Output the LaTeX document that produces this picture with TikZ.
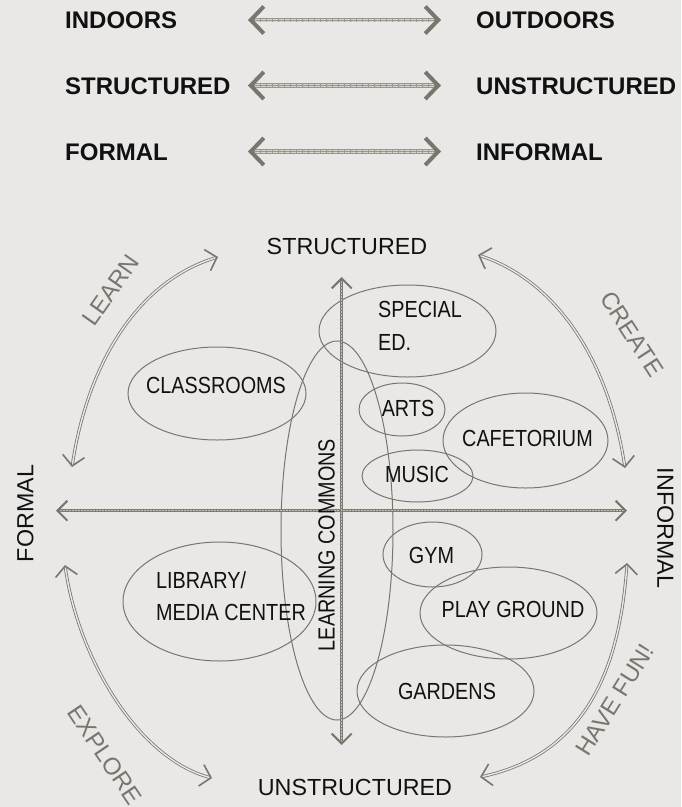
\documentclass[tikz,border=0pt]{standalone}
\usepackage{fontspec}
\setmainfont{Liberation Sans}
\newfontfamily\condfont[FakeStretch=0.85]{Liberation Sans}
\usetikzlibrary{arrows.meta,shapes.geometric}
\definecolor{bgc}{HTML}{E9E8E6}
\definecolor{ln}{HTML}{7A766E}
\definecolor{axd}{HTML}{7F7B73}
\definecolor{axl}{HTML}{C4C0BA}
\definecolor{shd}{HTML}{9A968E}
\definecolor{shl}{HTML}{D8D5D0}
\definecolor{ink}{HTML}{111111}
\begin{document}
\begin{tikzpicture}[x=1pt,y=-1pt,
  toptext/.style={font=\fontsize{24}{28}\selectfont\bfseries, text=ink, inner sep=0, anchor=base west},
  axtext/.style={font=\fontsize{23.3}{28}\selectfont, text=ink, inner sep=0},
  roomtext/.style={font=\condfont\fontsize{23.3}{28}\selectfont, text=ink, inner sep=0, anchor=base},
  curvetext/.style={font=\fontsize{24}{28}\selectfont, text=ln, inner sep=0},
  room/.style={draw=ln, line width=1pt, ellipse, inner sep=0},
  topbase/.style={line width=4.5pt, draw=shd, shorten <=3pt, shorten >=3pt},
  topstripe/.style={line width=3pt, draw=shl, dash pattern=on 0.6pt off 0.6pt, shorten <=3pt, shorten >=3pt},
  toptips/.style={line width=0.1pt, draw=shd,
     {Straight Barb[length=13pt,width=27pt,line width=4pt,color=ln]}-{Straight Barb[length=13pt,width=27pt,line width=4pt,color=ln]}},
  axbase/.style={line width=2.8pt, draw=axd, shorten <=2pt, shorten >=2pt},
  axstripe/.style={line width=1.6pt, draw=axl, dash pattern=on 0.7pt off 0.8pt, shorten <=2pt, shorten >=2pt},
  axtips/.style={line width=0.1pt, draw=axd,
     {Straight Barb[length=10pt,width=20pt,line width=2pt,color=ln]}-{Straight Barb[length=10pt,width=20pt,line width=2pt,color=ln]}},
  dbl/.style={draw=ln, line width=0.8pt, double=bgc, double distance=1.4pt, shorten <=1.5pt, shorten >=1.5pt},
  dbltips/.style={line width=0.1pt, draw=bgc,
     {Straight Barb[length=10pt,width=22pt,line width=1.6pt,color=ln]}-{Straight Barb[length=10pt,width=22pt,line width=1.6pt,color=ln]}}
]
\fill[bgc] (0,0) rectangle (681,807);
\useasboundingbox (0,0) rectangle (681,807);

% ---- top legend ----
\node[toptext] (indoors) at (65,28.6) {INDOORS};
\node[toptext] (outdoors) at (476,28.6) {OUTDOORS};
\node[toptext] (struct1) at (65,94.1) {STRUCTURED};
\node[toptext] (unstruct1) at (476,94.1) {UNSTRUCTURED};
\node[toptext] (formal1) at (65,160.1) {FORMAL};
\node[toptext] (informal1) at (476,160.1) {INFORMAL};
\foreach \r/\y in {1/20,2/85.5,3/151.5}{
  \coordinate (t\r a) at (248,\y);
  \coordinate (t\r b) at (441,\y);
  \draw[topbase] (t\r a) -- (t\r b);
  \draw[topstripe] (t\r a) -- (t\r b);
  \draw[toptips] (t\r a) -- (t\r b);
}

% ---- ellipses ----
\node[room, minimum width=178pt, minimum height=93pt] (classE) at (217,393.5) {};
\node[room, minimum width=177pt, minimum height=92pt] (specE) at (407.5,331) {};
\node[room, minimum width=112pt, minimum height=379pt] (lcE) at (337,530.5) {};
\node[room, minimum width=86pt, minimum height=53pt] (artsE) at (402,409.5) {};
\node[room, minimum width=165pt, minimum height=95pt] (cafE) at (525.5,440.5) {};
\node[room, minimum width=111pt, minimum height=52pt] (musE) at (417.5,476) {};
\node[room, minimum width=99pt, minimum height=65pt] (gymE) at (432.5,554.5) {};
\node[room, minimum width=177pt, minimum height=92pt] (playE) at (508.5,613) {};
\node[room, minimum width=177pt, minimum height=92pt] (gardE) at (445.5,691) {};
\node[room, minimum width=193pt, minimum height=119pt] (libE) at (219.5,601.5) {};

% ---- axes ----
\coordinate (axL) at (56,510.7);
\coordinate (axR) at (627,510.7);
\coordinate (axT) at (341.7,277);
\coordinate (axB) at (341.7,745);
\draw[axbase] (axL) -- (axR);
\draw[axstripe] (axL) -- (axR);
\draw[axbase] (axT) -- (axB);
\draw[axstripe] (axT) -- (axB);
\draw[axtips] (axL) -- (axR);
\draw[axtips] (axT) -- (axB);

% ---- room labels ----
\node[roomtext] (class) at (216,393.3) {CLASSROOMS};
\node[roomtext, anchor=base west] (spec1) at (378,317.5) {SPECIAL};
\node[roomtext, anchor=base west] (spec2) at (378,350.5) {ED.};
\node[roomtext] (arts) at (408,416.5) {ARTS};
\node[roomtext] (caf) at (527.5,446.5) {CAFETORIUM};
\node[roomtext] (mus) at (417,482.5) {MUSIC};
\node[roomtext] (gym) at (431.5,563) {GYM};
\node[roomtext] (play) at (513,617) {PLAY GROUND};
\node[roomtext] (gard) at (447,699) {GARDENS};
\node[roomtext, anchor=base west] (lib1) at (156,588.3) {LIBRARY/};
\node[roomtext, anchor=base west] (lib2) at (156,620) {MEDIA CENTER};
\node[roomtext, anchor=center, rotate=90] (lc) at (326.5,545) {LEARNING COMMONS};

% ---- axis labels ----
\node[axtext, anchor=base] (structT) at (347,254) {STRUCTURED};
\node[axtext, anchor=base] (unstructB) at (355,795) {UNSTRUCTURED};
\node[axtext, rotate=90] (formalL) at (25.3,513.5) {FORMAL};
\node[axtext, rotate=-90] (informalR) at (665.5,528) {INFORMAL};

% ---- curved double arrows ----
\coordinate (learnA) at (218,257);
\coordinate (learnB) at (72,467);
\draw[dbl] (learnA) .. controls (140,280) and (88,360) .. (learnB);
\draw[dbltips] (learnA) .. controls (140,280) and (88,360) .. (learnB);

\coordinate (createA) at (478,255);
\coordinate (createB) at (625,468);
\draw[dbl] (createA) .. controls (556,280) and (609,360) .. (createB);
\draw[dbltips] (createA) .. controls (556,280) and (609,360) .. (createB);

\coordinate (exploreA) at (65,565);
\coordinate (exploreB) at (212,778);
\draw[dbl] (exploreA) .. controls (78,660) and (140,760) .. (exploreB);
\draw[dbltips] (exploreA) .. controls (78,660) and (140,760) .. (exploreB);

\coordinate (funA) at (627,563);
\coordinate (funB) at (480,777);
\draw[dbl] (funA) .. controls (620,670) and (585,755) .. (funB);
\draw[dbltips] (funA) .. controls (620,670) and (585,755) .. (funB);

\node[curvetext, rotate=55] (learn) at (111,290) {LEARN};
\node[curvetext, rotate=-57] (create) at (632,334) {CREATE};
\node[curvetext, rotate=-56] (explore) at (105,755) {EXPLORE};
\node[curvetext, rotate=58] (fun) at (615,700) {HAVE FUN!};
\end{tikzpicture}
\end{document}
